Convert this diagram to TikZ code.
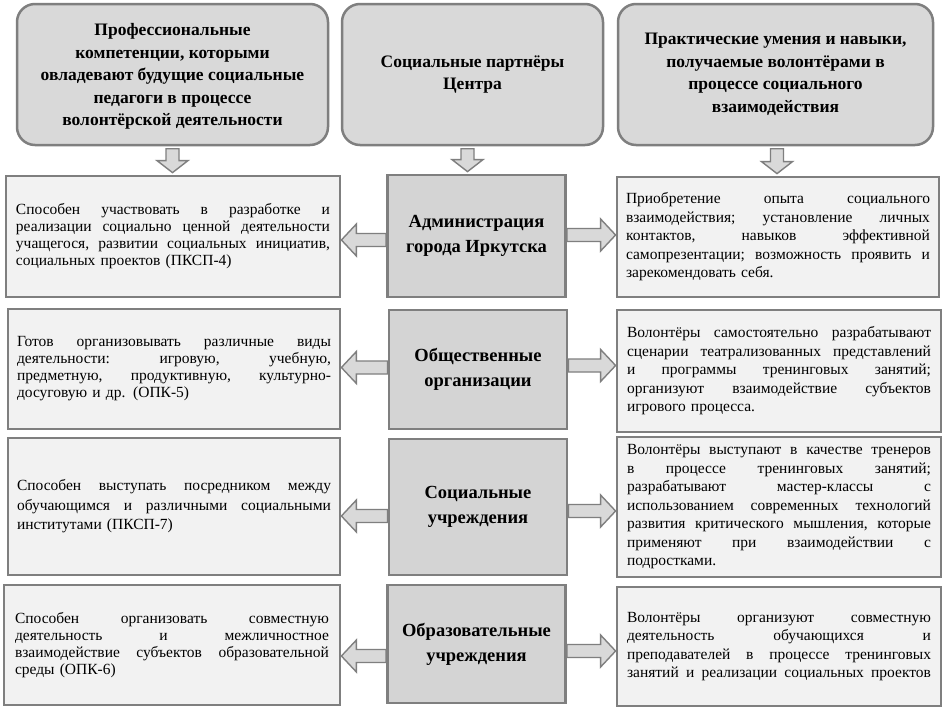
\documentclass[tikz,border=0pt]{standalone}
\usepackage{fontspec}
\setmainfont{Liberation Serif}
\usetikzlibrary{calc}
\definecolor{bord}{HTML}{7F7F7F}
\definecolor{topfill}{HTML}{D9D9D9}
\definecolor{midfill}{HTML}{D4D4D4}
\definecolor{sidefill}{HTML}{F2F2F2}
\definecolor{arrfill}{HTML}{D9D9D9}
\def\jw{300pt}
\newcommand\jline[1]{\leavevmode\hbox to \jw{\frenchspacing\spaceskip=0.3em plus 3em minus 0.1em\relax\xspaceskip=\spaceskip #1}}
\newcommand\blockarrow[4]{%
  \coordinate (bh) at ($(#2)!#3pt!(#1)$);
  \draw[barrow] ($(#1)!6.5pt!90:(#2)$) -- ($(bh)!6.5pt!90:(#2)$) -- ($(bh)!#4pt!90:(#2)$) -- (#2)
    -- ($(bh)!#4pt!-90:(#2)$) -- ($(bh)!6.5pt!-90:(#2)$) -- ($(#1)!6.5pt!-90:(#2)$) -- cycle;}
\tikzset{
  topbox/.style={draw=bord, fill=topfill, line width=2.5pt, rounded corners=18pt, align=center,
    font=\bfseries\fontsize{17.5}{22.5}\selectfont},
  midbox/.style={draw=bord, fill=midfill, line width=2.8pt, align=center, minimum width=178pt,
    font=\bfseries\fontsize{18.5}{25}\selectfont},
  leftbox/.style={draw=bord, fill=sidefill, line width=2.8pt, align=left, text width=314pt,
    font=\fontsize{15.5}{17}\selectfont\def\jw{314pt}},
  rightbox/.style={draw=bord, fill=sidefill, line width=2.8pt, align=left, text width=304pt,
    font=\fontsize{15.5}{18.5}\selectfont\def\jw{304pt}},
  barrow/.style={draw=bord, fill=arrfill, line width=1.4pt, line join=miter}
}
\begin{document}
\begin{tikzpicture}[x=1pt,y=-1pt]
\useasboundingbox[fill=white] (0,0) rectangle (945,707);

% top header boxes
\node[topbox, minimum width=311pt, minimum height=141pt, text depth=0pt] (t1) at (172.5,74.5)
  {Профессиональные\\компетенции, которыми\\овладевают будущие социальные\\педагоги в процессе\\волонтёрской деятельности};
\node[topbox, minimum width=261pt, minimum height=141pt] (t2) at (472.5,74.5)
  {Социальные партнёры\\Центра};
\node[topbox, minimum width=315pt, minimum height=141pt] (t3) at (775.5,74.5)
  {Практические умения и навыки,\\получаемые волонтёрами в\\процессе социального\\взаимодействия};

% row boxes
\node[leftbox, minimum width=334pt, minimum height=121pt] (l1) at (173,236.5)
  {\jline{Способен участвовать в разработке и}\\\jline{реализации социально ценной деятельности}\\\jline{учащегося, развитии социальных инициатив,}\\социальных проектов (ПКСП-4)};
\node[midbox, minimum height=122pt] (m1) at (476.5,236) {Администрация\\города Иркутска};
\node[rightbox, minimum width=322pt, minimum height=120pt] (r1) at (778,237)
  {\jline{Приобретение опыта социального}\\\jline{взаимодействия; установление личных}\\\jline{контактов, навыков эффективной}\\\jline{самопрезентации; возможность проявить и}\\зарекомендовать себя.};

\node[leftbox, minimum width=332pt, minimum height=120pt] (l2) at (174,369)
  {\jline{Готов организовывать различные виды}\\\jline{деятельности: игровую, учебную,}\\\jline{предметную, продуктивную, культурно-}\\досуговую и др. (ОПК-5)};
\node[midbox, minimum height=119pt] (m2) at (478,369.5) {Общественные\\организации};
\node[rightbox, minimum width=324pt, minimum height=122pt] (r2) at (779,371)
  {\jline{Волонтёры самостоятельно разрабатывают}\\\jline{сценарии театрализованных представлений}\\\jline{и программы тренинговых занятий;}\\\jline{организуют взаимодействие субъектов}\\игрового процесса.};

\node[leftbox, minimum width=332pt, minimum height=137pt, font=\fontsize{15.5}{19.5}\selectfont\def\jw{314pt}] (l3) at (174,506.5)
  {\jline{Способен выступать посредником между}\\\jline{обучающимся и различными социальными}\\институтами (ПКСП-7)};
\node[midbox, minimum height=136pt] (m3) at (478,507) {Социальные\\учреждения};
\node[rightbox, minimum width=324pt, minimum height=140pt] (r3) at (779,507)
  {\jline{Волонтёры выступают в качестве тренеров}\\\jline{в процессе тренинговых занятий;}\\\jline{разрабатывают мастер-классы с}\\\jline{использованием современных технологий}\\\jline{развития критического мышления, которые}\\\jline{применяют при взаимодействии с}\\подростками.};

\node[leftbox, minimum width=336pt, minimum height=120pt] (l4) at (172,645)
  {\jline{Способен организовать совместную}\\\jline{деятельность и межличностное}\\\jline{взаимодействие субъектов образовательной}\\среды (ОПК-6)};
\node[midbox, minimum height=118pt] (m4) at (476.5,644) {Образовательные\\учреждения};
\node[rightbox, minimum width=324pt, minimum height=119pt] (r4) at (779,646.5)
  {\jline{Волонтёры организуют совместную}\\\jline{деятельность обучающихся и}\\\jline{преподавателей в процессе тренинговых}\\\jline{занятий и реализации социальных проектов}};

% down arrows
\coordinate (d1s) at ($(t1.south)+(0,2.5)$);
\coordinate (d1e) at ($(d1s |- l1.north)+(0,-2)$);
\blockarrow{d1s}{d1e}{12}{15.5}
\coordinate (d2s) at ($(t2.south)+(-5,2.5)$);
\coordinate (d2e) at ($(d2s |- m1.north)+(0,-2)$);
\blockarrow{d2s}{d2e}{12}{15.5}
\coordinate (d3s) at ($(t3.south)+(1.5,2.5)$);
\coordinate (d3e) at ($(d3s |- r1.north)+(0,-2)$);
\blockarrow{d3s}{d3e}{12}{15.5}

% horizontal arrows
\coordinate (a1s) at ($(m1.west)+(0,4)$);  \coordinate (a1e) at (l1.east |- a1s);
\blockarrow{a1s}{a1e}{15}{16}
\coordinate (b1s) at ($(m1.east)+(0,-1)$); \coordinate (b1e) at (r1.west |- b1s);
\blockarrow{b1s}{b1e}{15}{16}
\coordinate (a2s) at ($(m2.west)+(0,-2)$); \coordinate (a2e) at (l2.east |- a2s);
\blockarrow{a2s}{a2e}{15}{16}
\coordinate (b2s) at ($(m2.east)+(0,-4)$);  \coordinate (b2e) at (r2.west |- b2s);
\blockarrow{b2s}{b2e}{15}{16}
\coordinate (a3s) at ($(m3.west)+(0,9)$);  \coordinate (a3e) at (l3.east |- a3s);
\blockarrow{a3s}{a3e}{15}{16}
\coordinate (b3s) at ($(m3.east)+(0,4)$);  \coordinate (b3e) at (r3.west |- b3s);
\blockarrow{b3s}{b3e}{15}{16}
\coordinate (a4s) at ($(m4.west)+(0,12)$); \coordinate (a4e) at (l4.east |- a4s);
\blockarrow{a4s}{a4e}{15}{16}
\coordinate (b4s) at ($(m4.east)+(0,7)$);  \coordinate (b4e) at (r4.west |- b4s);
\blockarrow{b4s}{b4e}{15}{16}
\end{tikzpicture}
\end{document}
